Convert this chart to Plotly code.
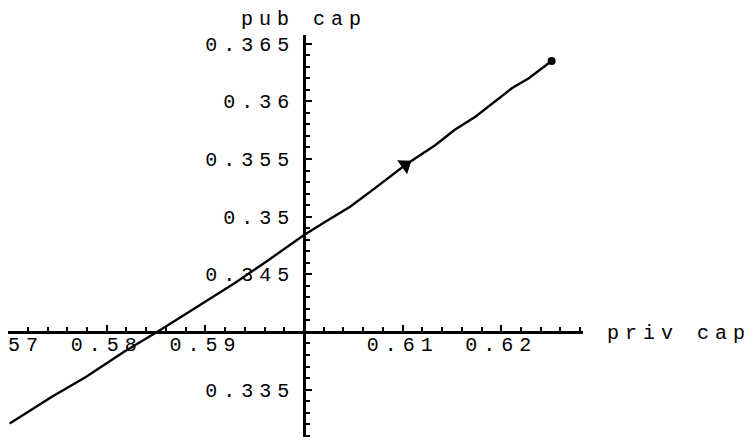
import numpy as np
import plotly.graph_objects as go

# ---- data ----
priv_cap = [0.57016, 0.57440, 0.57788, 0.58172, 0.58539, 0.58944, 0.59291,
            0.59638, 0.59997, 0.60216, 0.60467, 0.60717, 0.61026, 0.61333,
            0.61525, 0.61737, 0.61990, 0.62106, 0.62279, 0.62510]
pub_cap = [0.33205, 0.33436, 0.33609, 0.33826, 0.34015, 0.34232, 0.34420,
           0.34622, 0.34839, 0.34955, 0.35085, 0.35245, 0.35447, 0.35621,
           0.35752, 0.35866, 0.36040, 0.36113, 0.36200, 0.36350]
arrow_index = 12          # where the direction arrow sits on the path

x_tickvals = [0.57, 0.58, 0.59, 0.61, 0.62]
x_ticktext = ["0.57", "0.58", "0.59", "0.61", "0.62"]
y_tickvals = [0.335, 0.345, 0.35, 0.355, 0.36, 0.365]
y_ticktext = ["0.335", "0.345", "0.35", "0.355", "0.36", "0.365"]

x_origin, y_origin = 0.6, 0.34
x_range = [0.56999, 0.628283]
y_range = [0.330885, 0.365755]

x_label = "priv cap"
y_label = "pub cap"

FONT = "Liberation Mono"
FSIZE = 20
SP = 6  # letter spacing in px


def spaced(t):
    return '<span style="letter-spacing:%dpx">%s</span>' % (SP, t)


x_minor = [float(v) for v in np.round(np.arange(0.570, 0.6285, 0.002), 4)]
y_minor = [float(v) for v in np.round(np.arange(0.331, 0.3658, 0.001), 4)]

fig = go.Figure()
fig.add_trace(go.Scatter(x=priv_cap, y=pub_cap, mode="lines",
                         line=dict(color="black", width=2.4),
                         hoverinfo="skip", showlegend=False))
# end point dot
fig.add_trace(go.Scatter(x=[priv_cap[-1]], y=[pub_cap[-1]], mode="markers",
                         marker=dict(color="black", size=8),
                         hoverinfo="skip", showlegend=False))
# direction arrow
fig.add_trace(go.Scatter(x=[priv_cap[arrow_index]], y=[pub_cap[arrow_index]],
                         mode="markers",
                         marker=dict(symbol="triangle-up", color="black",
                                     size=15, angle=55),
                         hoverinfo="skip", showlegend=False))

x_pos = (y_origin - y_range[0]) / (y_range[1] - y_range[0])
y_pos = (x_origin - x_range[0]) / (x_range[1] - x_range[0])

axis_common = dict(showline=True, linecolor="black", linewidth=2.6,
                   ticks="inside", ticklen=6, tickwidth=2, tickcolor="black",
                   showgrid=False, zeroline=False, anchor="free",
                   automargin=False, ticklabeloverflow="allow",
                   tickfont=dict(family=FONT, size=FSIZE, color="black"))

fig.update_layout(
    width=748, height=433,
    margin=dict(l=0, r=173, t=27, b=4, autoexpand=False),
    paper_bgcolor="white", plot_bgcolor="white",
    xaxis=dict(range=x_range, position=x_pos, tickmode="array",
               tickvals=x_tickvals, ticktext=[spaced(t) for t in x_ticktext],
               minor=dict(tickmode="array", tickvals=x_minor, ticks="inside",
                          ticklen=4, tickwidth=2, tickcolor="black",
                          showgrid=False),
               ticklabelstandoff=-7, **axis_common),
    yaxis=dict(range=y_range, position=y_pos, tickmode="array",
               tickvals=y_tickvals, ticktext=[spaced(t) for t in y_ticktext],
               minor=dict(tickmode="array", tickvals=y_minor, ticks="inside",
                          ticklen=4, tickwidth=2, tickcolor="black",
                          showgrid=False),
               ticklabelstandoff=4, **axis_common),
    annotations=[
        dict(text=spaced(y_label), xref="x", x=x_origin, yref="paper", y=1,
             yanchor="middle", xanchor="center", yshift=16, showarrow=False,
             font=dict(family=FONT, size=FSIZE, color="black")),
        dict(text=spaced(x_label), xref="paper", x=1, yref="paper", y=x_pos,
             xanchor="left", yanchor="middle", xshift=22, yshift=-2,
             showarrow=False,
             font=dict(family=FONT, size=FSIZE, color="black")),
    ],
)

fig.write_html("out.html")
